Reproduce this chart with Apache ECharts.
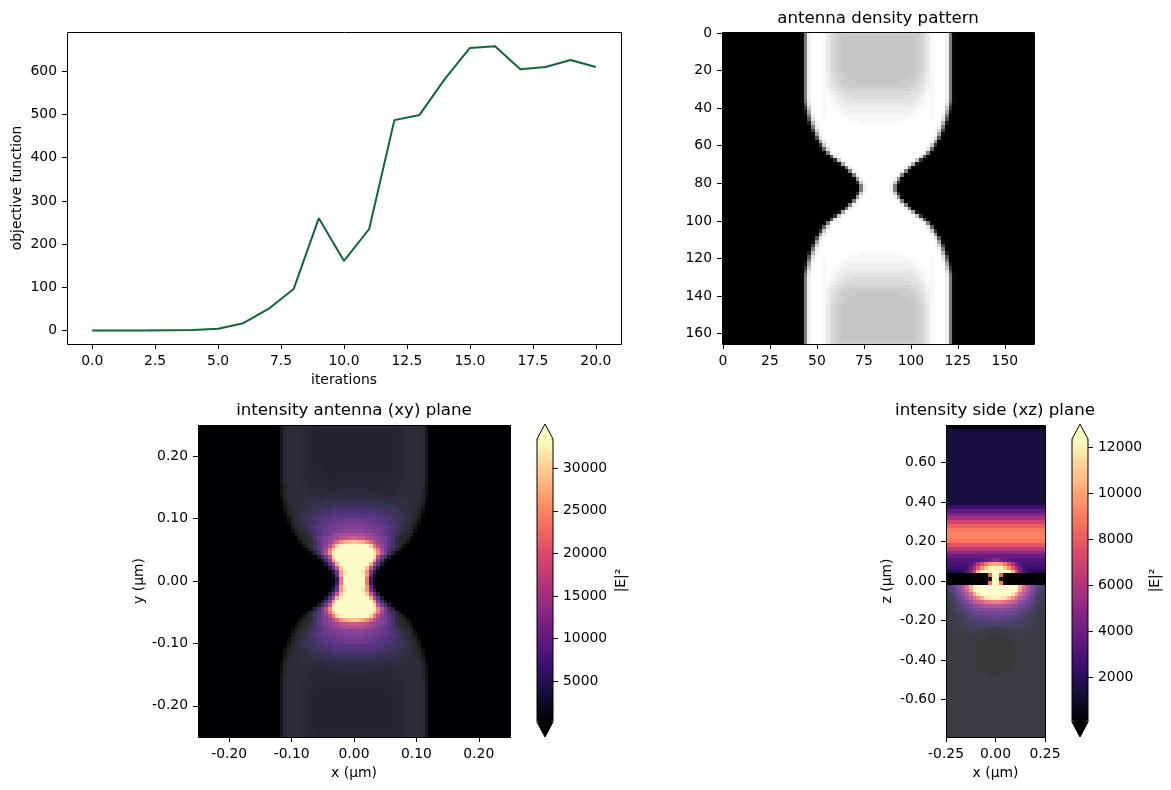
<!DOCTYPE html>
<html>
<head>
<meta charset="utf-8">
<style>html,body{margin:0;padding:0;background:#fff}#chart{width:1171px;height:790px}</style>
<script src="https://cdn.jsdelivr.net/npm/echarts@6/dist/echarts.min.js"></script>
</head>
<body>
<div id="chart"></div>
<script>
// Optimisation history: objective value per iteration.
const iterations = [0,1,2,3,4,5,6,7,8,9,10,11,12,13,14,15,16,17,18,19,20];
const objective = [0,0,0,0.5,1,4,17,50,96,260,161,235,487,499,582,654,658,605,610,626,610];

// Tick positions for each axis.
const iterTicks = [0,2.5,5,7.5,10,12.5,15,17.5,20];
const objectiveTicks = [0,100,200,300,400,500,600];
const densityXTicks = [0,25,50,75,100,125,150];
const densityYTicks = [0,20,40,60,80,100,120,140,160];
const xyTicks = [-0.2,-0.1,0,0.1,0.2];
const xzXTicks = [-0.25,0,0.25];
const xzZTicks = [-0.6,-0.4,-0.2,0,0.2,0.4,0.6];
const xyBarTicks = [5000,10000,15000,20000,25000,30000];
const xzBarTicks = [2000,4000,6000,8000,10000,12000];

// Run-length coded cell levels (base 36, "a*3" repeats a three times).
// The antenna is symmetric in x and y, so the two xy tables hold the top-left quadrant.
const densityQuadrant = [
 "0*21 1hx z*3 y wuts s*10","0*21 1hx z*3 y wuts r*10","0*21 1hx z*3 y wuts r*10","0*21 1hx z*3 y wuts r*10",
 "0*21 1hx z*3 y wuts r*10","0*21 1hx z*3 y wuts r*10","0*21 1hx z*3 y wuts r*10","0*21 1hx z*3 y wuts r*10",
 "0*21 1hx z*3 y wuts r*10","0*21 1hx z*3 y wuts r*10","0*21 1hx z*3 y wuts r*10","0*21 1hx z*3 y xvut s r*9",
 "0*21 1hx z*3 y xvut s*2 r*8","0*21 1hx z*3 y xvut s*4 r*6","0*21 1hx z*3 y xwvu t*2 s*8","0*21 1hx z*3 y ywvu u t*9",
 "0*21 1hx z*3 y yxwv v u*9","0*21 1hx z*3 y zyxw v*3 u*7","0*21 1gw z*3 y zyxw w v*9","0*22 cv z*3 y zyyx w*10",
 "0*22 7ry z*2 y zzyy x*10","0*22 3ny z*2 y zzzy y x*9","0*22 1hx z*2 y zzzz y*10","0*23 cv z*2 y z*6 y*8",
 "0*23 4py z*11 y*5","0*23 1hx z*16","0*24 9ty z*15","0*24 2my z*15",
 "0*25 cv z*15","0*25 1lx z*14","0*26 7ry z*13","0*27 ev z*13",
 "0*27 1hx z*12","0*29 cv z*11","0*30 7ry z*9","0*31 3ny z*8",
 "0*32 1hx z*7","0*33 1hx z*6","0*34 1hx z*5","0*35 1kx z*4",
 "0*36 7ry z*3","0*36 1hx z*3"
];
const xyFieldQuadrant = [
 "0*22 1*20","0*22 1*20","0*22 1*20","0*22 1*20","0*22 1*20","0*22 1*20","0*22 1*20","0*22 1*20",
 "0*22 1*20","0*22 1*20","0*22 1*20","0*22 1*20","0*22 1*20","0*22 1*20","0*22 1*20","0*22 1*20",
 "0*24 1*18","0*24 1*14 2*4","0*24 1*10 2*8","0*24 1*6 2*12","0*24 1*4 2*6 3*8",
 "0*25 1*2 2*4 3*5 4*6","0*25 1*2 2*3 3*3 4*3 5*6","0*26 1 2*2 3*2 4*2 5*3 6*6",
 "0*26 1 2 3*2 4*2 5*2 6*2 7*6","0*26 1 2 3 4*2 5 6*2 7*2 8*3 9*3","0*27 1 2 3 4 5*2 7*2 8*2 9*2 a*3",
 "0*27 1 2 3 5 6 7 8*2 9*2 a*2 b*3","0*28 1245789 a*2 b*2 c*3","0*29 135689a c d e f*3",
 "0*30 258abcdeghij","0*30 147abdglpstu","0*30 147acgnv z*4","0*30 136aenu z*5","0*31 25agpy z*5",
 "0*32 149hw z*5","0*33 15bq z*5","0*34 27es z*4","0*35 38iu z*3","0*35 139qx z*2","0*36 28ry z*2","0*36 15n z*3"
];
// Left half of the side view, every row from the top of the domain to the bottom.
const xzAirRows = Array(20).fill("4*13");
const xzField = [
 "0*13", ...xzAirRows,
 "7*13","a*13","d*13","g*13","k*13","n*13","p*13","q*13","q*13","p*13","m*13","i*13","e*13","b*13",
 "9*9 a b c e","8*6 9 c h l p s t","7*5 8 c g m r v y z","5*4 6 9 d l u z*4",
 "0*11 n z","0*11 3 z","0*11 p z",
 "4 5 8 b f l s z*6","3 5 7 a e j q y z*5","2 4 6 9 c g k r x z*4","2 3 5 7 a d g k o s w x y",
 "1 3 4 6 8 a c f h j l m n","1 2 3 5 6 8 9 b c d e e f","1 2 3 4 5 6 7 8 9 a a b b","1 1 2 3 4 5 6 7 8 8 9 9 9",
 "1 1 2 2 3 4 5 5 6 6 6 7 7","1 1 1 2 3 3 4 4 4 5 5 5 5","1*3 2*2 3*3 4*5","1*4 2*3 3*2 2*2 1*2","1*6 2*2 1*5",
 "1*11 0*2","1*9 0*4","1*8 0*5","1*8 0*5","1*8 0*5","1*8 0*5","1*8 0*5","1*8 0*5","1*8 0*5","1*9 0*4","1*11 0*2",
 "1*13","1*13","1*13","1*13","1*13","1*13","1*13","1*13","1*13","1*13","1*13","1*13","1*13","1*13","1*13","1*13"
];
const xzSubstrate = [...Array(42).fill("0*13"), ...Array(40).fill("z*13")];

const magma = ['#000004','#140e36','#3b0f70','#641a80','#8c2981','#b73779','#de4968','#f7705c','#fe9f6d','#fecf92','#fcfdbf'];
const xyRange = [182, 33443];
const xzRange = [59, 12347];

const FONT = '"DejaVu Sans"';
const TICK = 13.9;

function expand(row) {
  return row.replace(/(\w)\*(\d+)/g, (_, c, n) => c.repeat(+n)).replace(/\s/g, '');
}
function levels(row) {
  return Array.from(expand(row), c => parseInt(c, 36));
}
function mirrorX(rows) {
  return rows.map(r => { const l = levels(r); return l.concat(l.slice().reverse()); });
}
function mirrorXY(rows) {
  const top = mirrorX(rows);
  return top.concat(top.slice().reverse());
}

// One cell per table entry, placed in data units so the axes do the scaling.
function cellSeries(table, toValue, xSpan, ySpan, axisIndex) {
  const nRows = table.length, nCols = table[0].length;
  const stepX = (xSpan[1] - xSpan[0]) / nCols, stepY = (ySpan[1] - ySpan[0]) / nRows;
  const data = [];
  table.forEach((row, r) => row.forEach((lv, c) => {
    data.push([xSpan[0] + (c + 0.5) * stepX, ySpan[0] + (r + 0.5) * stepY, toValue(lv)]);
  }));
  return {
    type: 'custom', coordinateSystem: 'cartesian2d',
    xAxisIndex: axisIndex, yAxisIndex: axisIndex,
    encode: { x: 0, y: 1 }, silent: true, progressive: 50000, progressiveThreshold: 100000,
    data,
    renderItem(params, api) {
      const x = api.value(0), y = api.value(1);
      const a = api.coord([x - stepX / 2, y - stepY / 2]);
      const b = api.coord([x + stepX / 2, y + stepY / 2]);
      const x0 = Math.round(Math.min(a[0], b[0])), x1 = Math.round(Math.max(a[0], b[0]));
      const y0 = Math.round(Math.min(a[1], b[1])), y1 = Math.round(Math.max(a[1], b[1]));
      return { type: 'rect', shape: { x: x0, y: y0, width: x1 - x0, height: y1 - y0 }, style: { fill: api.visual('color') } };
    }
  };
}

const panels = [
  { left: 67, top: 32, width: 554, height: 312 },
  { left: 722, top: 32, width: 312, height: 312 },
  { left: 198, top: 425, width: 312, height: 312 },
  { left: 946, top: 425, width: 99, height: 312 },
  { left: 537, top: 439, width: 16, height: 283 },
  { left: 1072, top: 439, width: 16, height: 283 }
];

function axisBase(ticks, min, max, fmt) {
  return {
    type: 'value', min, max, splitLine: { show: false },
    axisLine: { show: false, onZero: false },
    axisTick: { show: true, length: 5, inside: false, customValues: ticks, lineStyle: { color: '#000', width: 1 } },
    axisLabel: { show: true, customValues: ticks, margin: 10, color: '#000', fontFamily: FONT, fontSize: TICK, formatter: fmt, hideOverlap: false },
    nameLocation: 'middle', nameTextStyle: { color: '#000', fontFamily: FONT, fontSize: TICK }
  };
}
const fixed = n => v => Number(v).toFixed(n);
const plain = v => String(Math.round(v));

const xAxis = [
  { ...axisBase(iterTicks, -1, 21, fixed(1)), gridIndex: 0, name: 'iterations', nameGap: 29 },
  { ...axisBase(densityXTicks, -0.5, 165.5, plain), gridIndex: 1 },
  { ...axisBase(xyTicks, -0.25, 0.25, fixed(2)), gridIndex: 2, name: 'x (μm)', nameGap: 29 },
  { ...axisBase(xzXTicks, -0.25, 0.25, fixed(2)), gridIndex: 3, name: 'x (μm)', nameGap: 29 },
  { type: 'value', gridIndex: 4, min: 0, max: 1, show: false },
  { type: 'value', gridIndex: 5, min: 0, max: 1, show: false }
];
const yAxis = [
  { ...axisBase(objectiveTicks, -31.2, 691, plain), gridIndex: 0, name: 'objective function', nameGap: 43 },
  { ...axisBase(densityYTicks, -0.5, 165.5, plain), gridIndex: 1, inverse: true },
  { ...axisBase(xyTicks, -0.25, 0.25, fixed(2)), gridIndex: 2, name: 'y (μm)', nameGap: 52 },
  { ...axisBase(xzZTicks, -0.79, 0.79, fixed(2)), gridIndex: 3, name: 'z (μm)', nameGap: 52 },
  { ...axisBase(xyBarTicks, xyRange[0], xyRange[1], plain), gridIndex: 4, position: 'right', name: '|E|²', nameRotate: 90, nameGap: 61 },
  { ...axisBase(xzBarTicks, xzRange[0], xzRange[1], plain), gridIndex: 5, position: 'right', name: '|E|²', nameRotate: 90, nameGap: 60 }
];

const densityTable = mirrorXY(densityQuadrant);
const series = [
  { type: 'line', xAxisIndex: 0, yAxisIndex: 0, showSymbol: false, silent: true,
    lineStyle: { color: '#12653a', width: 2 }, data: iterations.map((it, i) => [it, objective[i]]) },
  cellSeries(densityTable, l => l / 35, [-0.5, 165.5], [-0.5, 165.5], 1),
  cellSeries(mirrorXY(xyFieldQuadrant), l => 200 + l * 945, [-0.25, 0.25], [0.25, -0.25], 2),
  cellSeries(densityTable, l => l / 35, [-0.25, 0.25], [0.25, -0.25], 2),
  cellSeries(mirrorX(xzField), l => 60 + l * 350, [-0.25, 0.25], [0.79, -0.79], 3),
  cellSeries(mirrorX(xzSubstrate), l => l / 35, [-0.25, 0.25], [0.79, -0.79], 3)
];

const colourBar = (range, left, idx) => ({
  type: 'continuous', min: range[0], max: range[1], dimension: 2, seriesIndex: idx,
  left, top: 439, itemWidth: 16, itemHeight: 283, padding: 0, calculable: false,
  showLabel: false, text: null, hoverLink: false, inRange: { color: magma }, outOfRange: { color: magma[0] }
});
const visualMap = [
  { type: 'continuous', show: false, min: 0, max: 1, dimension: 2, seriesIndex: 1, inRange: { color: ['#000000', '#ffffff'] } },
  colourBar(xyRange, 537, 2),
  { type: 'continuous', show: false, min: 0, max: 1, dimension: 2, seriesIndex: 3, inRange: { color: ['rgba(255,255,255,0)', 'rgba(255,255,255,0.16)'] } },
  colourBar(xzRange, 1072, 4),
  { type: 'continuous', show: false, min: 0, max: 1, dimension: 2, seriesIndex: 5, inRange: { color: ['rgba(255,255,255,0)', 'rgba(255,255,255,0.22)'] } }
];

const frames = panels.slice(0, 4).map(p => ({
  type: 'rect', z: 100, silent: true,
  shape: { x: p.left + 0.5, y: p.top + 0.5, width: p.width, height: p.height },
  style: { fill: 'none', stroke: '#000', lineWidth: 1 }
}));
const barOutline = p => {
  const mid = p.left + p.width / 2, right = p.left + p.width, bottom = p.top + p.height;
  return [
    { type: 'polygon', z: 99, silent: true, shape: { points: [[p.left, p.top], [mid, p.top - 15], [right, p.top]] }, style: { fill: magma[10] } },
    { type: 'polygon', z: 99, silent: true, shape: { points: [[p.left, bottom], [mid, bottom + 15], [right, bottom]] }, style: { fill: magma[0] } },
    { type: 'polygon', z: 100, silent: true,
      shape: { points: [[p.left, p.top], [mid, p.top - 15], [right, p.top], [right, bottom], [mid, bottom + 15], [p.left, bottom]] },
      style: { fill: 'none', stroke: '#000', lineWidth: 1 } }
  ];
};

const titleOf = (text, x, top) => ({
  text, left: x, top, textAlign: 'center', padding: 0,
  textStyle: { fontFamily: FONT, fontSize: 16.65, fontWeight: 'normal', color: '#000' }
});

echarts.init(document.getElementById('chart'), null, { renderer: 'canvas' }).setOption({
  animation: false,
  backgroundColor: '#fff',
  tooltip: { show: false },
  title: [
    titleOf('antenna density pattern', 878, 10),
    titleOf('intensity antenna (xy) plane', 354, 402),
    titleOf('intensity side (xz) plane', 995, 402)
  ],
  grid: panels.map(p => ({ ...p, containLabel: false })),
  xAxis, yAxis, series, visualMap,
  graphic: { elements: [...frames, ...barOutline(panels[4]), ...barOutline(panels[5])] }
});
</script>
</body>
</html>
